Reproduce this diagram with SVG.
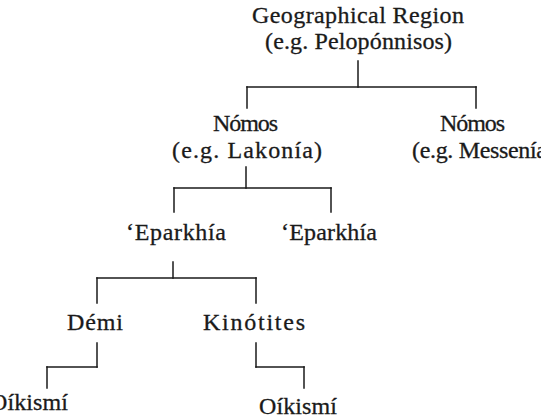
<svg xmlns="http://www.w3.org/2000/svg" width="541" height="417" viewBox="0 0 541 417">
<style>
text{font-family:"Liberation Serif","Times New Roman",serif;font-size:24px;fill:#1a1a1a;stroke:#1a1a1a;stroke-width:0.3}
.c line{stroke:#1a1a1a;stroke-width:1.5;stroke-linecap:square}
</style>
<rect width="541" height="417" fill="#fff"/>
<g class="c" id="connectors">
<line x1="358" y1="61" x2="358" y2="87"/>
<line x1="247" y1="87" x2="476" y2="87"/>
<line x1="247" y1="87" x2="247" y2="108"/>
<line x1="476" y1="87" x2="476" y2="108"/>
<line x1="246" y1="167" x2="246" y2="188"/>
<line x1="174" y1="188" x2="331" y2="188"/>
<line x1="174" y1="188" x2="174" y2="212"/>
<line x1="331" y1="188" x2="331" y2="212"/>
<line x1="173" y1="262" x2="173" y2="278"/>
<line x1="97" y1="278" x2="256" y2="278"/>
<line x1="97" y1="278" x2="97" y2="303"/>
<line x1="256" y1="278" x2="256" y2="303"/>
<line x1="97" y1="343" x2="97" y2="367"/>
<line x1="47" y1="367" x2="97" y2="367"/>
<line x1="47" y1="367" x2="47" y2="388"/>
<line x1="256" y1="343" x2="256" y2="367"/>
<line x1="256" y1="367" x2="304" y2="367"/>
<line x1="304" y1="367" x2="304" y2="388"/>
</g>
<g id="region">
<text x="252" y="23" textLength="212" lengthAdjust="spacing">Geographical Region</text>
<text x="265" y="49" textLength="187" lengthAdjust="spacing">(e.g. Pelopónnisos)</text>
</g>
<g id="nomos-lakonia">
<text x="213" y="131" textLength="65" lengthAdjust="spacing">Nómos</text>
<text x="172" y="158" textLength="150" lengthAdjust="spacing">(e.g. Lakonía)</text>
</g>
<g id="nomos-messenia">
<text x="440" y="131" textLength="65" lengthAdjust="spacing">Nómos</text>
<text x="412" y="158" textLength="135" lengthAdjust="spacing">(e.g. Messenía</text>
</g>
<g id="eparkhia-1">
<text x="126" y="240" textLength="100" lengthAdjust="spacing">‘Eparkhía</text>
</g>
<g id="eparkhia-2">
<text x="281" y="240" textLength="96" lengthAdjust="spacing">‘Eparkhía</text>
</g>
<g id="demi">
<text x="67" y="330" textLength="56" lengthAdjust="spacing">Démi</text>
</g>
<g id="kinotites">
<text x="203" y="330" textLength="102" lengthAdjust="spacing">Kinótites</text>
</g>
<g id="oikismi-1">
<text x="-10" y="410" textLength="78" lengthAdjust="spacing">Oíkismí</text>
</g>
<g id="oikismi-2">
<text x="259" y="414" textLength="78" lengthAdjust="spacing">Oíkismí</text>
</g>
</svg>
